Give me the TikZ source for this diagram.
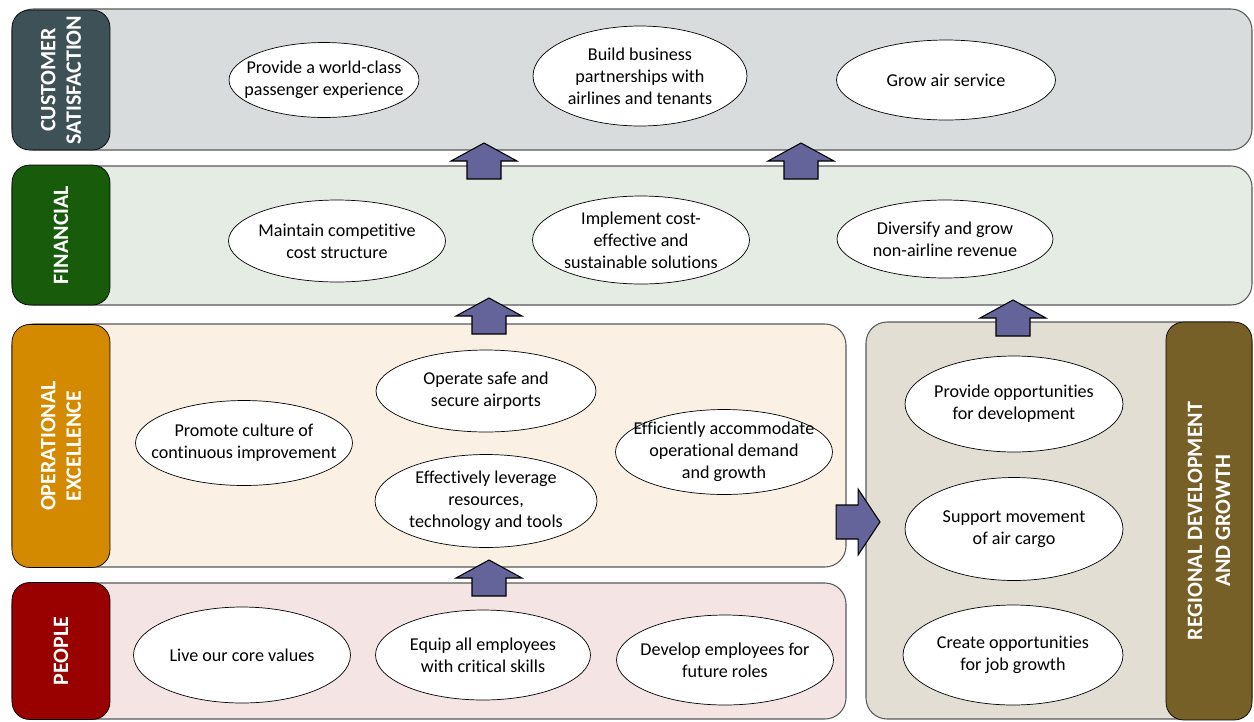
\documentclass[tikz,border=0pt]{standalone}
\usepackage{fontspec}
\setmainfont{Carlito}[Ligatures=NoCommon]
\usetikzlibrary{shapes.geometric}
\definecolor{custlab}{HTML}{3E5157}
\definecolor{custbg}{HTML}{D9DCDD}
\definecolor{finlab}{HTML}{185B0B}
\definecolor{finbg}{HTML}{E5ECE3}
\definecolor{opslab}{HTML}{D48A00}
\definecolor{opsbg}{HTML}{FAF1E4}
\definecolor{peoplab}{HTML}{990000}
\definecolor{peopbg}{HTML}{F5E4E4}
\definecolor{reglab}{HTML}{775F28}
\definecolor{regbg}{HTML}{E2DED3}
\definecolor{arrowblue}{HTML}{64649A}
\tikzset{
  band/.style={draw=black!65, rounded corners=12pt, line width=0.6pt},
  lane/.style={draw=black, rounded corners=10pt, rotate=90, text=white,
    font=\bfseries\fontsize{12.5}{14.5}\selectfont, align=center, inner sep=0pt},
  goal/.style={ellipse, draw, fill=white, align=center, inner xsep=-1.2cm, inner ysep=-0.6cm,
    font=\fontsize{10.3}{12.5}\selectfont},
  blockarrow/.pic={
    \draw[fill=arrowblue, line width=0.6pt] (0,0) -- (33,18) -- (17,18) -- (17,36)
      -- (-17,36) -- (-17,18) -- (-33,18) -- cycle;
  }
}
\begin{document}
\begin{tikzpicture}[x=0.02cm, y=-0.02cm]
\useasboundingbox (0,0) rectangle (1254,721);
% bands
\draw[band, fill=custbg] (12,9) rectangle (1252,150);
\draw[band, fill=finbg] (12,166) rectangle (1252,305);
\draw[band, fill=opsbg] (12,324) rectangle (846,567);
\draw[band, fill=peopbg] (12,583) rectangle (846,719);
\draw[band, fill=regbg] (866,322) rectangle (1252,719);
% lane labels
\node[lane, fill=custlab, minimum width=2.8cm, minimum height=1.96cm] (cust) at (61,80) {CUSTOMER\\SATISFACTION};
\node[lane, fill=finlab, minimum width=2.8cm, minimum height=1.96cm] (fin) at (61,235) {FINANCIAL};
\node[lane, fill=opslab, minimum width=4.86cm, minimum height=1.96cm] (ops) at (61,446) {OPERATIONAL\\EXCELLENCE};
\node[lane, fill=peoplab, minimum width=2.74cm, minimum height=1.96cm] (peop) at (61,651) {PEOPLE};
\node[lane, fill=reglab, minimum width=7.96cm, minimum height=1.72cm, font=\bfseries\fontsize{12.5}{16}\selectfont] (reg) at (1209,521) {REGIONAL DEVELOPMENT\\AND GROWTH};
% customer satisfaction
\node[goal, minimum width=3.8cm, minimum height=1.5cm] (worldclass) at (324,80) {Provide a world-class\\passenger experience};
\node[goal, minimum width=4.28cm, minimum height=2cm] (partner) at (640,76) {Build business\\partnerships with\\airlines and tenants};
\node[goal, minimum width=4.38cm, minimum height=1.6cm] (airservice) at (946,80) {Grow air service};
% financial
\node[goal, minimum width=4.34cm, minimum height=1.64cm] (cost) at (337,241) {Maintain competitive\\cost structure};
\node[goal, minimum width=4.34cm, minimum height=1.76cm] (sustain) at (641,240) {Implement cost-\\effective and\\sustainable solutions};
\node[goal, minimum width=4.32cm, minimum height=1.56cm] (revenue) at (945,239) {Diversify and grow\\non-airline revenue};
% operational excellence
\node[goal, minimum width=4.4cm, minimum height=1.64cm] (safe) at (486,391) {Operate safe and\\secure airports};
\node[goal, minimum width=4.34cm, minimum height=1.7cm] (culture) at (244,443) {Promote culture of\\continuous improvement};
\node[goal, minimum width=4.34cm, minimum height=1.7cm] (demand) at (724,452) {Efficiently accommodate\\operational demand\\and growth};
\node[goal, minimum width=4.44cm, minimum height=1.86cm] (leverage) at (486,501) {Effectively leverage\\resources,\\technology and tools};
% people
\node[goal, minimum width=4.34cm, minimum height=1.92cm] (values) at (242,655) {Live our core values};
\node[goal, minimum width=4.3cm, minimum height=1.8cm] (skills) at (483,655) {Equip all employees\\with critical skills};
\node[goal, minimum width=4.34cm, minimum height=1.8cm] (roles) at (725,660) {Develop employees for\\future roles};
% regional development
\node[goal, minimum width=4.36cm, minimum height=1.92cm] (devopp) at (1014,404) {Provide opportunities\\for development};
\node[goal, minimum width=4.36cm, minimum height=2.06cm] (cargo) at (1014,529) {Support movement\\of air cargo};
\node[goal, minimum width=4.4cm, minimum height=2cm] (jobs) at (1013,655) {Create opportunities\\for job growth};
% block arrows
\pic at (484,143) {blockarrow};
\pic at (801,143) {blockarrow};
\pic at (489,298) {blockarrow};
\pic at (1013,300) {blockarrow};
\pic at (489,560) {blockarrow};
\pic[rotate=-90, yscale=1.22] at (880,522) {blockarrow};
\end{tikzpicture}
\end{document}
